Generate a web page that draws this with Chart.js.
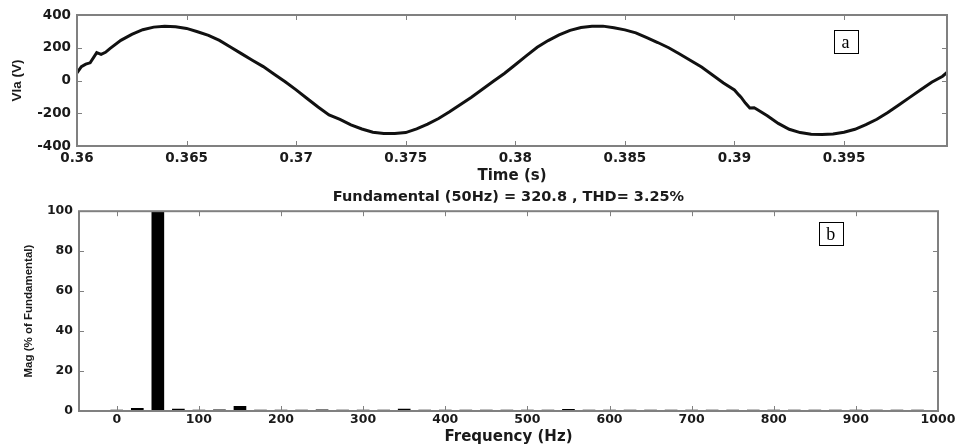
<!DOCTYPE html>
<html>
<head>
<meta charset="utf-8">
<script src="https://cdn.jsdelivr.net/npm/chart.js"></script>
<style>
  html, body { margin: 0; padding: 0; background: #fff; }
  #wrap { position: relative; width: 968px; height: 446px; }
  #wave { position: absolute; left: 0; top: 0; }
  #fft { position: absolute; left: 0; top: 185px; }
</style>
</head>
<body>
<div id="wrap">
  <canvas id="wave" width="968" height="185"></canvas>
  <canvas id="fft" width="968" height="261"></canvas>
</div>
<script>
// (a) phase voltage
const timeS = [
  0.3600, 0.3602, 0.3604, 0.3606, 0.3609, 0.3611, 0.3613, 0.3615, 0.3620, 0.3625,
  0.3630, 0.3635, 0.3640, 0.3645, 0.3650, 0.3655, 0.3660, 0.3665, 0.3670, 0.3675,
  0.3680, 0.3685, 0.3690, 0.3695, 0.3700, 0.3705, 0.3710, 0.3715, 0.3720, 0.3725,
  0.3730, 0.3735, 0.3740, 0.3745, 0.3750, 0.3755, 0.3760, 0.3765, 0.3770, 0.3775,
  0.3780, 0.3785, 0.3790, 0.3795, 0.3800, 0.3805, 0.3810, 0.3815, 0.3820, 0.3825,
  0.3830, 0.3835, 0.3840, 0.3845, 0.3850, 0.3855, 0.3860, 0.3865, 0.3870, 0.3875,
  0.3880, 0.3885, 0.3890, 0.3895, 0.3900, 0.3902, 0.3903, 0.3905, 0.3907, 0.3909,
  0.3910, 0.3915, 0.3920, 0.3925, 0.3930, 0.3935, 0.3940, 0.3945, 0.3950, 0.3955,
  0.3960, 0.3965, 0.3970, 0.3975, 0.3980, 0.3985, 0.3990, 0.3995, 0.3997
];
const vla = [
  47, 85, 100, 108, 170, 160, 172, 195, 245, 282,
  310, 326, 332, 328, 318, 298, 276, 245, 205, 164,
  124, 85, 38, -8, -57, -110, -162, -210, -237, -271,
  -296, -316, -323, -323, -318, -295, -266, -232, -191, -146,
  -102, -54, -5, 43, 96, 150, 203, 244, 278, 306,
  324, 331, 332, 322, 309, 291, 262, 232, 200, 162,
  122, 82, 34, -15, -58, -88, -102, -138, -168, -166,
  -174, -215, -262, -298, -318, -328, -330, -326, -316, -298,
  -270, -237, -196, -150, -103, -57, -11, 26, 49
];
const timeTicks = [0.36, 0.365, 0.37, 0.375, 0.38, 0.385, 0.39, 0.395];
const voltTicks = [-400, -200, 0, 200, 400];

// (b) harmonic spectrum
const freqHz = [
  0, 25, 50, 75, 100, 125, 150, 175, 200, 225,
  250, 275, 300, 325, 350, 375, 400, 425, 450, 475,
  500, 525, 550, 575, 600, 625, 650, 675, 700, 725,
  750, 775, 800, 825, 850, 875, 900, 925, 950, 975
];
const magPct = [
  0.4, 1.3, 100, 1.0, 0.5, 0.6, 2.3, 0.5, 0.5, 0.5,
  0.6, 0.5, 0.5, 0.5, 1.0, 0.5, 0.5, 0.5, 0.5, 0.5,
  0.5, 0.5, 0.8, 0.5, 0.5, 0.5, 0.5, 0.5, 0.5, 0.5,
  0.5, 0.5, 0.5, 0.5, 0.5, 0.5, 0.5, 0.5, 0.5, 0.5
];
const freqTicks = [0, 100, 200, 300, 400, 500, 600, 700, 800, 900, 1000];
const magTicks = [0, 20, 40, 60, 80, 100];

const fftTitle = 'Fundamental (50Hz) = 320.8 , THD= 3.25%';

const ink = '#1a1a1a';
const frame = '#808080';
const wideBold = 'DejaVu Sans';
const plainBold = 'Liberation Sans';

// MATLAB-like box with inward ticks plus the boxed panel letter
const boxPlugin = {
  id: 'matlabBox',
  afterDatasetsDraw(chart, args, opts) {
    const { ctx, chartArea: a, scales } = chart;
    const x = scales.x, y = scales.y;
    ctx.save();
    ctx.strokeStyle = frame;
    ctx.lineWidth = 1;
    ctx.beginPath();
    x.ticks.forEach(t => {
      const px = Math.round(x.getPixelForValue(t.value)) + 0.5;
      ctx.moveTo(px, a.bottom); ctx.lineTo(px, a.bottom - 5);
      ctx.moveTo(px, a.top); ctx.lineTo(px, a.top + 5);
    });
    y.ticks.forEach(t => {
      const py = Math.round(y.getPixelForValue(t.value)) + 0.5;
      ctx.moveTo(a.left, py); ctx.lineTo(a.left + 5, py);
      ctx.moveTo(a.right, py); ctx.lineTo(a.right - 5, py);
    });
    ctx.stroke();
    ctx.lineWidth = 2;
    ctx.strokeRect(a.left, a.top, a.right - a.left, a.bottom - a.top);

    // panel letter
    const cx = x.getPixelForValue(opts.at[0]);
    const cy = y.getPixelForValue(opts.at[1]);
    ctx.fillStyle = '#fff';
    ctx.fillRect(cx - 12, cy - 12, 24, 24);
    ctx.strokeStyle = '#000';
    ctx.lineWidth = 1;
    ctx.strokeRect(Math.round(cx - 12) + 0.5, Math.round(cy - 12) + 0.5, 24, 23);
    ctx.fillStyle = '#000';
    ctx.font = '18px "Liberation Serif"';
    ctx.textAlign = 'center';
    ctx.textBaseline = 'middle';
    ctx.fillText(opts.letter, cx, cy + 1);
    ctx.restore();
  }
};

Chart.defaults.color = ink;
Chart.defaults.animation = false;

new Chart(document.getElementById('wave'), {
  type: 'scatter',
  data: {
    datasets: [{
      data: timeS.map((t, i) => ({ x: t, y: vla[i] })),
      showLine: true,
      borderColor: '#111',
      borderWidth: 3,
      pointRadius: 0,
      tension: 0
    }]
  },
  options: {
    responsive: false,
    events: [],
    layout: { padding: { left: 0, top: 15, right: 21, bottom: 0 } },
    plugins: {
      legend: { display: false },
      tooltip: { enabled: false },
      matlabBox: { at: [0.39507, 235], letter: 'a' }
    },
    scales: {
      x: {
        type: 'linear',
        min: 0.36,
        max: 0.3997,
        afterBuildTicks: s => { s.ticks = timeTicks.map(v => ({ value: v })); },
        afterFit: s => { s.height = 39; },
        grid: { display: false, drawTicks: false },
        border: { display: false },
        ticks: {
          padding: 4,
          font: { family: wideBold, size: 13.5, weight: 'bold' },
          callback: v => String(+v.toFixed(3))
        },
        title: {
          display: true,
          text: 'Time (s)',
          padding: { top: 1, bottom: 0 },
          font: { family: wideBold, size: 15, weight: 'bold' }
        }
      },
      y: {
        min: -400,
        max: 400,
        afterBuildTicks: s => { s.ticks = voltTicks.map(v => ({ value: v })); },
        afterFit: s => { s.width = 77; },
        grid: { display: false, drawTicks: false },
        border: { display: false },
        ticks: {
          padding: 6,
          font: { family: wideBold, size: 13.5, weight: 'bold' }
        },
        title: {
          display: true,
          text: 'Vla (V)',
          padding: { top: 9, bottom: 0 },
          font: { family: plainBold, size: 13.5, weight: 'bold' }
        }
      }
    }
  },
  plugins: [boxPlugin]
});

new Chart(document.getElementById('fft'), {
  type: 'bar',
  data: {
    datasets: [{
      data: freqHz.map((f, i) => ({ x: f, y: magPct[i] })),
      backgroundColor: '#000',
      borderWidth: 0,
      barThickness: 12
    }]
  },
  options: {
    responsive: false,
    events: [],
    layout: { padding: { left: 0, top: 0, right: 30, bottom: 0 } },
    plugins: {
      legend: { display: false },
      tooltip: { enabled: false },
      title: {
        display: true,
        text: fftTitle,
        fullSize: false,
        padding: { top: 3.4, bottom: 5.4 },
        font: { family: wideBold, size: 14.5, weight: 'bold' },
        color: ink
      },
      matlabBox: { at: [869.5, 88.5], letter: 'b' }
    },
    scales: {
      x: {
        type: 'linear',
        min: -46,
        max: 1000,
        offset: false,
        afterBuildTicks: s => { s.ticks = freqTicks.map(v => ({ value: v })); },
        afterFit: s => { s.height = 35; },
        grid: { display: false, drawTicks: false },
        border: { display: false },
        ticks: {
          padding: 1.5,
          font: { family: wideBold, size: 12.5, weight: 'bold' },
          callback: v => String(v)
        },
        title: {
          display: true,
          text: 'Frequency (Hz)',
          padding: { top: 3, bottom: 0 },
          font: { family: wideBold, size: 15, weight: 'bold' }
        }
      },
      y: {
        min: 0,
        max: 100,
        afterBuildTicks: s => { s.ticks = magTicks.map(v => ({ value: v })); },
        afterFit: s => { s.width = 79; },
        grid: { display: false, drawTicks: false },
        border: { display: false },
        ticks: {
          padding: 6,
          font: { family: wideBold, size: 12.5, weight: 'bold' }
        },
        title: {
          display: true,
          text: 'Mag (% of Fundamental)',
          padding: { top: 22, bottom: 0 },
          font: { family: plainBold, size: 11.5, weight: 'bold' }
        }
      }
    }
  },
  plugins: [boxPlugin]
});
</script>
</body>
</html>
